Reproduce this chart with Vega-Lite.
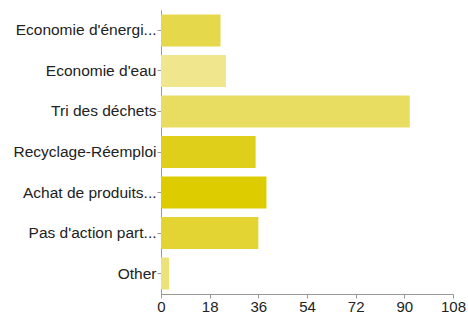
{
  "$schema": "https://vega.github.io/schema/vega-lite/v6.json",
  "autosize": {"type": "none"},
  "padding": {"left": 161, "top": 10, "right": 15, "bottom": 20},
  "width": 292,
  "height": 284,
  "background": "white",
  "data": {"values": [
    {"cat": "Economie d'énergi...", "n": 22},
    {"cat": "Economie d'eau", "n": 24},
    {"cat": "Tri des déchets", "n": 92},
    {"cat": "Recyclage-Réemploi", "n": 35},
    {"cat": "Achat de produits...", "n": 39},
    {"cat": "Pas d'action part...", "n": 36},
    {"cat": "Other", "n": 3}
  ]},
  "mark": {"type": "bar"},
  "encoding": {
    "y": {"field": "cat", "type": "nominal", "sort": null,
      "scale": {"paddingInner": 0.21, "paddingOuter": 0.11},
      "axis": {"title": null, "labelFont": "Liberation Sans", "labelFontSize": 15.5, "labelColor": "#222", "tickSize": 4, "tickColor": "#999", "domainColor": "#999", "labelPadding": 1, "labelLimit": 200}},
    "x": {"field": "n", "type": "quantitative",
      "scale": {"domain": [0, 108], "nice": false},
      "axis": {"title": null, "values": [0, 18, 36, 54, 72, 90, 108], "grid": false, "labelFont": "Liberation Sans", "labelFontSize": 15, "labelColor": "#222", "tickSize": 4, "tickColor": "#999", "domainColor": "#999", "labelPadding": 1, "labelFlush": false}},
    "color": {"field": "cat", "type": "nominal", "legend": null,
      "scale": {"domain": ["Economie d'énergi...", "Economie d'eau", "Tri des déchets", "Recyclage-Réemploi", "Achat de produits...", "Pas d'action part...", "Other"],
        "range": ["#e5d84a", "#efe68d", "#e8dd60", "#dfce1a", "#dccc00", "#e3d333", "#ede17a"]}}
  },
  "config": {"view": {"stroke": null}}
}
